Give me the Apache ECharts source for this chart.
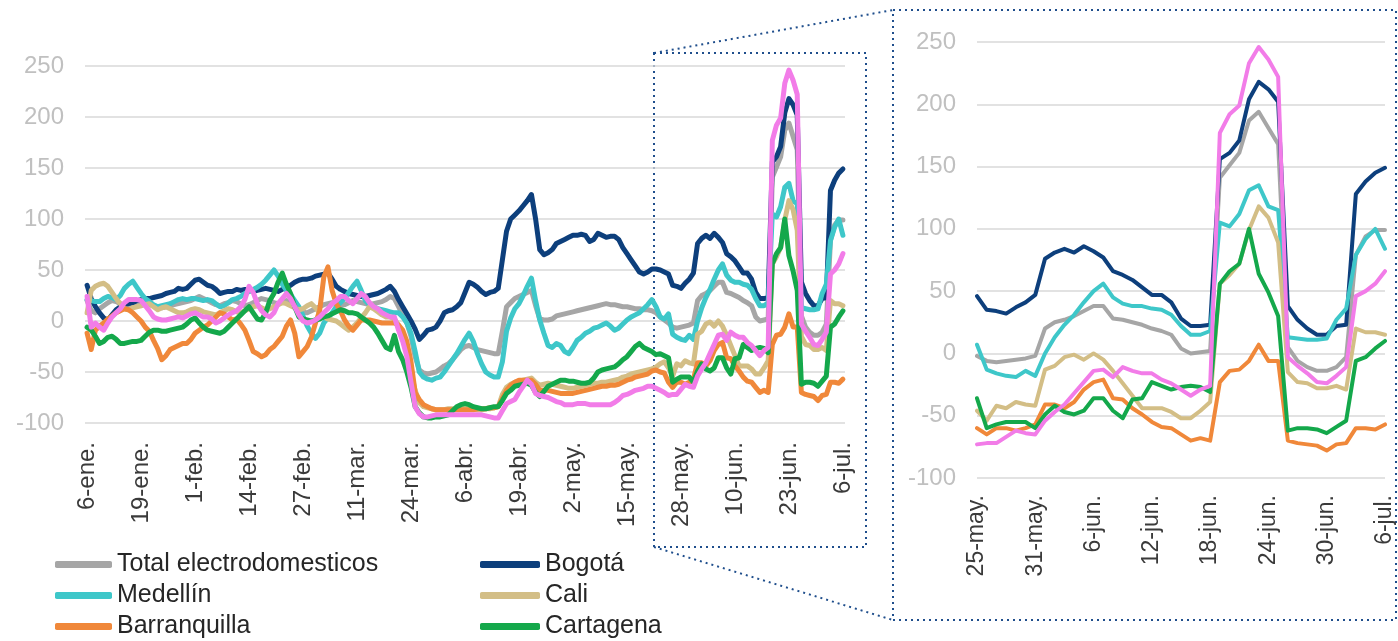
<!DOCTYPE html>
<html><head><meta charset="utf-8">
<script src="https://cdn.jsdelivr.net/npm/echarts@6/dist/echarts.min.js"></script>
<style>html,body{margin:0;padding:0;background:#fff}#c{width:1398px;height:641px}</style>
</head><body><div id="c"></div>
<script>
// Daily dates from 6-ene. to 6-jul. (2020)
const monthNames = ['ene.','feb.','mar.','abr.','may.','jun.','jul.'];
const categories = [];
for (let k = 0; k < 183; k++) { const d = new Date(2020, 0, 6 + k); categories.push(d.getDate() + '-' + monthNames[d.getMonth()]); }
const insetStart = 140; // 25-may.

const yTicks = { min: -100, max: 250, interval: 50 };

const total = [
20,10,8,12,15,18,20,19,17,15,
14,16,18,20,18,16,15,14,13,14,
15,16,17,18,19,20,22,24,22,20,
18,16,15,17,18,20,19,17,15,16,
18,20,22,21,20,18,17,19,20,17,
14,11,9,8,10,12,14,16,17,18,
17,15,16,18,20,19,18,17,16,17,
18,19,21,24,22,14,6,-2,-15,-35,
-48,-51,-52,-51,-50,-47,-44,-42,-38,-33,
-28,-25,-24,-26,-28,-29,-30,-31,-32,-32,
-10,14,18,22,24,26,28,30,15,2,
1,1,2,5,6,7,8,9,10,11,
12,13,14,15,16,17,16,16,15,14,
14,13,12,12,11,11,10,8,4,1,
-2,-6,-7,-6,-5,-4,-2,20,25,27,
30,34,38,38,28,27,25,23,20,18,
15,4,0,1,2,141,151,161,187,194,
181,168,5,-6,-11,-14,-14,-11,-3,79,
94,99,99];

const bogota = [
35,22,14,8,3,1,6,11,14,16,
17,18,20,21,22,22,23,24,25,27,
28,29,32,31,32,36,40,41,38,35,
34,31,27,28,29,29,31,30,31,30,
29,30,31,32,31,30,29,31,33,35,
38,40,41,41,42,44,45,46,47,41,
34,31,29,27,26,25,24,24,25,26,
27,29,31,34,29,21,14,7,0,-8,
-18,-14,-9,-8,-6,0,8,10,11,14,
18,28,38,36,33,29,26,28,29,32,
60,88,100,104,108,113,118,124,100,70,
65,67,70,76,78,80,82,84,84,85,
84,78,80,86,84,82,83,83,80,72,
66,60,54,48,46,48,51,51,50,48,
46,35,34,32,37,41,47,76,81,84,
81,86,82,77,66,63,59,53,47,47,
41,28,22,22,23,156,161,171,204,218,
212,202,38,27,20,15,15,22,23,128,
138,145,149];

const medellin = [
21,20,19,19,22,24,23,21,25,32,
36,39,33,27,22,19,16,14,15,16,
17,19,21,22,21,22,22,21,20,21,
20,17,14,15,18,21,22,24,27,29,
31,33,36,40,45,50,44,36,30,26,
20,14,5,-5,-12,-17,-12,-2,3,8,
14,18,22,28,34,39,30,20,16,14,
12,11,10,9,8,8,4,-2,-12,-30,
-50,-55,-57,-58,-56,-55,-50,-44,-38,-32,
-25,-18,-12,-20,-32,-42,-50,-53,-55,-55,
-40,-10,3,12,17,25,34,42,20,1,
-12,-24,-26,-22,-24,-30,-32,-26,-19,-16,
-12,-10,-7,-6,-4,-2,-5,-9,-7,-3,
1,4,6,8,12,16,21,14,4,2,
7,-13,-16,-18,-19,-14,-18,0,13,23,
31,41,50,56,45,40,38,38,36,35,
31,22,15,15,18,105,102,112,131,135,
118,115,13,12,11,11,12,27,36,79,
92,100,84];

const cali = [
8,30,34,36,37,34,28,22,17,12,
11,13,14,15,16,17,14,11,13,14,
12,10,8,8,9,11,12,11,9,8,
7,6,8,10,12,11,9,8,10,12,
14,15,13,11,12,14,16,18,17,15,
13,11,12,15,17,13,8,4,2,1,
0,-3,-6,-9,-6,-2,3,8,14,12,
9,6,4,4,2,-4,-12,-25,-51,-68,
-80,-84,-85,-86,-87,-87,-87,-86,-86,-86,
-86,-85,-85,-86,-87,-87,-86,-86,-85,-84,
-72,-65,-62,-60,-59,-58,-57,-56,-60,-63,
-62,-61,-62,-63,-64,-65,-66,-66,-65,-64,
-63,-62,-61,-61,-60,-60,-59,-58,-57,-55,
-54,-52,-51,-50,-49,-48,-47,-45,-42,-40,
-46,-54,-42,-44,-39,-41,-42,-13,-10,-3,
-1,-5,0,-5,-14,-24,-34,-44,-44,-44,
-47,-52,-52,-46,-39,56,63,72,99,118,
109,89,-15,-23,-24,-28,-28,-26,-29,20,
17,17,15];

const barranquilla = [
-12,-28,-9,-5,-2,2,5,8,10,12,
11,8,4,0,-6,-10,-19,-27,-38,-34,
-28,-26,-24,-22,-22,-18,-12,-9,-6,-4,
0,4,8,7,4,1,2,-3,-9,-19,
-30,-32,-35,-33,-28,-25,-20,-15,-5,1,
-12,-35,-30,-25,-16,-2,10,43,53,30,
17,10,1,-5,-9,-4,1,1,1,0,
-1,-2,-2,-2,-2,-4,-9,-20,-40,-70,
-77,-82,-84,-86,-87,-87,-87,-87,-87,-87,
-87,-87,-87,-87,-86,-86,-86,-85,-85,-84,
-76,-68,-63,-60,-58,-58,-58,-58,-62,-68,
-68,-68,-69,-70,-71,-71,-71,-71,-70,-69,
-68,-67,-66,-65,-64,-64,-63,-63,-62,-60,
-58,-57,-55,-54,-53,-52,-49,-48,-50,-51,
-60,-65,-60,-60,-62,-60,-57,-41,-41,-44,
-39,-29,-23,-21,-36,-37,-44,-49,-55,-59,
-60,-65,-70,-68,-70,-23,-14,-13,-6,7,
-6,-6,-70,-72,-73,-74,-78,-73,-72,-60,
-60,-61,-57];

const cartagena = [
-6,-9,-15,-22,-20,-16,-15,-18,-22,-22,
-21,-20,-20,-19,-15,-11,-9,-9,-10,-10,
-9,-8,-7,-6,-3,1,3,-2,-6,-9,
-10,-11,-12,-10,-6,-2,2,6,10,14,
8,2,1,8,20,27,38,47,36,27,
14,4,2,1,0,1,2,4,5,7,
9,11,10,8,8,7,4,1,-2,-6,
-12,-19,-26,-28,-14,-30,-38,-50,-65,-84,
-90,-94,-95,-95,-94,-94,-93,-92,-88,-84,
-82,-81,-82,-84,-85,-86,-86,-85,-84,-84,
-78,-71,-68,-64,-63,-62,-61,-63,-70,-74,
-69,-64,-62,-60,-58,-58,-59,-59,-60,-61,
-61,-60,-56,-50,-48,-47,-46,-45,-42,-38,
-35,-30,-25,-22,-26,-28,-30,-33,-32,-34,
-36,-60,-57,-55,-55,-55,-60,-49,-42,-47,
-49,-46,-36,-36,-46,-52,-37,-36,-23,-26,
-29,-27,-26,-27,-31,56,66,72,100,64,
49,30,-62,-60,-60,-61,-64,-59,-54,-6,
-3,4,10];

const otra = [
24,-6,-2,-6,-9,-2,4,8,12,18,
21,21,21,20,15,10,4,2,1,1,
2,3,4,3,5,7,8,6,4,4,
2,-2,0,3,6,8,10,14,21,34,
28,17,10,6,4,8,17,22,27,22,
14,6,0,-2,-1,1,4,8,12,17,
20,24,24,20,17,22,27,24,18,14,
12,8,6,4,4,-9,-20,-35,-60,-84,
-91,-94,-94,-93,-92,-92,-92,-92,-92,-92,
-92,-92,-92,-92,-92,-92,-93,-94,-95,-95,
-88,-81,-79,-77,-70,-64,-58,-62,-71,-73,
-74,-75,-77,-79,-80,-82,-82,-82,-81,-81,
-81,-82,-82,-82,-82,-82,-82,-80,-77,-73,
-72,-70,-68,-67,-66,-64,-64,-66,-68,-70,
-73,-72,-72,-67,-62,-64,-65,-54,-47,-41,
-32,-23,-14,-13,-19,-11,-14,-16,-16,-21,
-24,-29,-34,-29,-26,177,192,199,233,246,
236,222,-3,-10,-16,-23,-24,-18,-11,46,
50,56,66];

const seriesDefs = [
  { name: 'Total electrodomesticos', data: total, color: '#a6a6a6' },
  { name: 'Bogotá', data: bogota, color: '#0d3f7c' },
  { name: 'Medellín', data: medellin, color: '#3ec7c9' },
  { name: 'Cali', data: cali, color: '#d3be86' },
  { name: 'Barranquilla', data: barranquilla, color: '#f0883a' },
  { name: 'Cartagena', data: cartagena, color: '#14a84b' },
  { name: 'Otra', data: otra, color: '#f27ce8' }
];

const FONT = "'Liberation Sans', Arial, sans-serif";

function yAxis(gridIndex) {
  return {
    type: 'value', gridIndex, min: yTicks.min, max: yTicks.max, interval: yTicks.interval,
    axisLine: { show: false }, axisTick: { show: false },
    axisLabel: { color: '#c0c0c0', fontSize: 24, fontFamily: FONT, margin: 21 },
    splitLine: { lineStyle: { color: '#d9d9d9', width: 1.5 } }
  };
}

const series = [];
seriesDefs.forEach(s => {
  series.push({ name: s.name, type: 'line', xAxisIndex: 0, yAxisIndex: 0, data: s.data,
    showSymbol: false, lineStyle: { color: s.color, width: 5, join: 'round', cap: 'round' }, itemStyle: { color: s.color }, animation: false });
});
seriesDefs.forEach(s => {
  series.push({ name: s.name, type: 'line', xAxisIndex: 1, yAxisIndex: 1, data: s.data.slice(insetStart),
    showSymbol: false, lineStyle: { color: s.color, width: 4, join: 'round', cap: 'round' }, itemStyle: { color: s.color }, animation: false });
});

function legendItem(name, left, top, w) {
  return { left, top, data: [name], orient: 'horizontal', itemWidth: w, itemHeight: 7, icon: 'roundRect',
    textStyle: { fontSize: 25, color: '#262626', fontFamily: FONT }, selectedMode: false, padding: 0 };
}

const dot = { stroke: '#1f4e8c', lineWidth: 2, lineDash: [2, 4], fill: null };

const option = {
  backgroundColor: '#fff',
  animation: false,
  grid: [
    { left: 85, top: 66, width: 760, height: 357 },
    { left: 977, top: 42, width: 408, height: 436 }
  ],
  xAxis: [
    { type: 'category', gridIndex: 0, data: categories, boundaryGap: true,
      axisLine: { show: false }, axisTick: { show: false },
      axisLabel: { interval: 12, rotate: 90, fontSize: 24, color: '#3a3a3a', fontFamily: FONT, margin: 19 } },
    { type: 'category', gridIndex: 1, data: categories.slice(insetStart), boundaryGap: false,
      axisLine: { show: false }, axisTick: { show: false },
      axisLabel: { interval: 5, rotate: 90, fontSize: 23, color: '#3a3a3a', fontFamily: FONT, margin: 17 } }
  ],
  yAxis: [yAxis(0), yAxis(1)],
  legend: [
    legendItem('Total electrodomesticos', 55, 552, 57),
    legendItem('Medellín', 55, 583, 57),
    legendItem('Barranquilla', 55, 614, 57),
    legendItem('Bogotá', 480, 552, 60),
    legendItem('Cali', 480, 583, 60),
    legendItem('Cartagena', 480, 614, 60)
  ],
  graphic: [
    { type: 'rect', shape: { x: 654, y: 53, width: 212, height: 494 }, style: dot, silent: true },
    { type: 'rect', shape: { x: 893, y: 10, width: 503, height: 610 }, style: dot, silent: true },
    { type: 'line', shape: { x1: 654, y1: 53, x2: 893, y2: 10 }, style: dot, silent: true },
    { type: 'line', shape: { x1: 654, y1: 547, x2: 893, y2: 620 }, style: dot, silent: true }
  ],
  series
};

echarts.init(document.getElementById('c'), null, { renderer: 'canvas' }).setOption(option);
</script>
</body></html>
